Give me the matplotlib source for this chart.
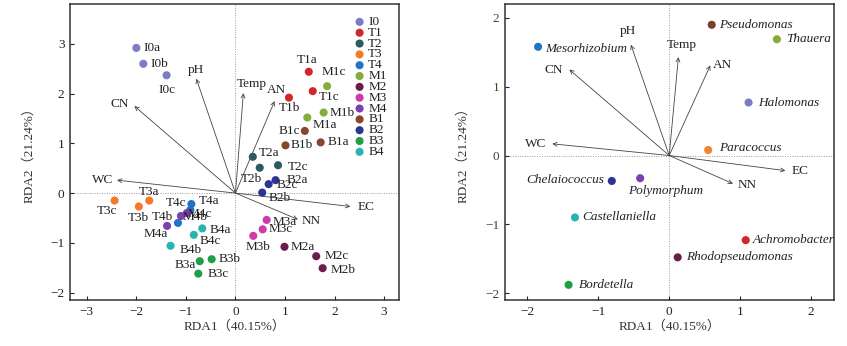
import matplotlib
matplotlib.use("Agg")
import matplotlib.pyplot as plt

plt.rcParams['font.family'] = ['Liberation Serif', 'Noto Sans CJK SC']
plt.rcParams['axes.unicode_minus'] = True

# ---- left panel: samples ----
groups = ["I0", "T1", "T2", "T3", "T4", "M1", "M2", "M3", "M4", "B1", "B2", "B3", "B4"]
group_colors = ["#7b7bc6", "#d2262b", "#2d5a60", "#f57a26", "#1f74c4", "#85ad3c", "#6a1d4c",
                "#cf3aab", "#7a3fb0", "#86472e", "#2b3592", "#1f9e44", "#27b3b0"]

sample_names = ["I0a", "I0b", "I0c",
                "T1a", "T1b", "T1c",
                "T2a", "T2b", "T2c",
                "T3a", "T3b", "T3c",
                "T4a", "T4b", "T4c",
                "M1a", "M1b", "M1c",
                "M2a", "M2b", "M2c",
                "M3a", "M3b", "M3c",
                "M4a", "M4b", "M4c",
                "B1a", "B1b", "B1c",
                "B2a", "B2b", "B2c",
                "B3a", "B3b", "B3c",
                "B4a", "B4b", "B4c"]
sample_x = [-2.00, -1.86, -1.39,
            1.48, 1.08, 1.56,
            0.35, 0.49, 0.86,
            -1.74, -1.95, -2.44,
            -0.89, -1.16, -0.91,
            1.45, 1.78, 1.85,
            0.99, 1.76, 1.63,
            0.63, 0.36, 0.55,
            -1.38, -1.10, -0.98,
            1.72, 1.01, 1.40,
            0.81, 0.54, 0.67,
            -0.72, -0.48, -0.75,
            -0.67, -1.31, -0.84]
sample_y = [2.92, 2.60, 2.37,
            2.44, 1.92, 2.05,
            0.73, 0.51, 0.56,
            -0.15, -0.27, -0.15,
            -0.22, -0.60, -0.34,
            1.52, 1.62, 2.15,
            -1.08, -1.51, -1.27,
            -0.54, -0.86, -0.73,
            -0.66, -0.46, -0.40,
            1.02, 0.96, 1.25,
            0.26, 0.01, 0.18,
            -1.37, -1.33, -1.62,
            -0.71, -1.06, -0.84]

env_vars = ["WC", "EC", "NN", "CN", "pH", "Temp", "AN"]
env_left_x = [-2.39, 2.32, 1.26, -2.04, -0.79, 0.16, 0.79]
env_left_y = [0.26, -0.27, -0.53, 1.75, 2.30, 2.01, 1.85]

# ---- right panel: genera ----
genera = ["Mesorhizobium", "Pseudomonas", "Thauera", "Halomonas", "Paracoccus", "Chelaiococcus",
          "Polymorphum", "Castellaniella", "Achromobacter", "Rhodopseudomonas", "Bordetella"]
genus_x = [-1.85, 0.60, 1.52, 1.12, 0.55, -0.81, -0.41, -1.33, 1.08, 0.12, -1.42]
genus_y = [1.58, 1.90, 1.69, 0.77, 0.08, -0.37, -0.33, -0.90, -1.23, -1.48, -1.88]
genus_colors = ["#1f74c4", "#7a3f2b", "#85ad3c", "#7b7bc6", "#f28530", "#2b3592",
                "#7a3fb0", "#27b3b0", "#d2262b", "#6a1d4c", "#1f9e44"]

env_right_x = [-1.65, 1.64, 0.90, -1.41, -0.54, 0.13, 0.58]
env_right_y = [0.17, -0.22, -0.41, 1.25, 1.61, 1.43, 1.31]

# label placement (pixel offsets, ha)
sample_lab = {
    "I0a": (7, 0, "left"), "I0b": (7, 0, "left"), "I0c": (0, -15, "center"),
    "T1a": (-2, 12, "center"), "T1b": (-10, -10, "left"), "T1c": (6, -6, "left"),
    "T2a": (6, 4, "left"), "T2b": (-8, -11, "center"), "T2c": (10, -2, "left"),
    "T3a": (0, 9, "center"), "T3b": (0, -11, "center"), "T3c": (-8, -10, "center"),
    "T4a": (7, 3, "left"), "T4b": (-5, 6, "right"), "T4c": (-4, 7, "right"),
    "M1a": (5, -7, "left"), "M1b": (6, 0, "left"), "M1c": (7, 14, "center"),
    "M2a": (6, 0, "left"), "M2b": (8, -2, "left"), "M2c": (8, 0, "left"),
    "M3a": (6, -2, "left"), "M3b": (5, -11, "center"), "M3c": (6, 0, "left"),
    "M4a": (-11, -8, "center"), "M4b": (2, -1, "left"), "M4c": (1, -1, "left"),
    "B1a": (7, 0, "left"), "B1b": (5, 0, "left"), "B1c": (-5, 0, "right"),
    "B2a": (11, 0, "left"), "B2b": (6, -5, "left"), "B2c": (8, -1, "left"),
    "B3a": (-4, -4, "right"), "B3b": (7, 0, "left"), "B3c": (9, 0, "left"),
    "B4a": (7, -2, "left"), "B4b": (9, -4, "left"), "B4c": (6, -6, "left"),
}
env_lab_left = {"WC": (-4, 0, "right"), "EC": (7, 0, "left"), "NN": (4, -2, "left"),
                "CN": (-5, 2, "right"), "pH": (0, 9, "center"), "Temp": (8, 9, "center"),
                "AN": (2, 11, "center")}
env_lab_right = {"WC": (-6, 0, "right"), "EC": (6, 0, "left"), "NN": (5, -1, "left"),
                 "CN": (-6, 0, "right"), "pH": (-3, 14, "center"), "Temp": (3, 12, "center"),
                 "AN": (3, 0, "left")}
genus_lab = {"Mesorhizobium": (7, -2, "left"), "Pseudomonas": (7, 0, "left"),
             "Thauera": (9, 0, "left"), "Halomonas": (10, 0, "left"),
             "Paracoccus": (11, 2, "left"), "Chelaiococcus": (-8, 1, "right"),
             "Polymorphum": (-12, -13, "left"), "Castellaniella": (7, 0, "left"),
             "Achromobacter": (7, 0, "left"), "Rhodopseudomonas": (8, 0, "left"),
             "Bordetella": (10, 0, "left")}

FS = 9.5
fig = plt.figure(figsize=(8.47, 3.46), dpi=100)
ax1 = fig.add_axes([0.0826, 0.133, 0.389, 0.855])
ax2 = fig.add_axes([0.596, 0.133, 0.389, 0.855])


def style_axes(ax, xlim, ylim, xticks, yticks):
    ax.set_xlim(*xlim)
    ax.set_ylim(*ylim)
    ax.set_xticks(xticks)
    ax.set_yticks(yticks)
    ax.tick_params(direction="in", length=3, width=0.8, labelsize=FS, pad=4, colors="#222222")
    for sp in ax.spines.values():
        sp.set_linewidth(1.1)
        sp.set_color("#333333")
    ax.axhline(0, color="#999999", lw=0.7, ls=(0, (1, 1.5)), zorder=0)
    ax.axvline(0, color="#999999", lw=0.7, ls=(0, (1, 1.5)), zorder=0)
    ax.set_xlabel("RDA1（40.15%）", fontsize=FS, labelpad=2, color="#333333")
    ax.set_ylabel("RDA2（21.24%）", fontsize=FS, labelpad=11, color="#333333")


def draw_arrows(ax, xs, ys, labels):
    for name, x, y in zip(env_vars, xs, ys):
        ax.annotate("", xy=(x, y), xytext=(0, 0),
                    arrowprops=dict(arrowstyle="->", lw=0.6, color="#444444",
                                    shrinkA=0, shrinkB=0, mutation_scale=7))
        dx, dy, ha = labels[name]
        ax.annotate(name, (x, y), xytext=(dx, dy), textcoords="offset pixels",
                    ha=ha, va="center", fontsize=FS, color="#222222")


# left panel
style_axes(ax1, (-3.34, 3.31), (-2.15, 3.8), range(-3, 4), range(-2, 4))
draw_arrows(ax1, env_left_x, env_left_y, env_lab_left)
for name, x, y in zip(sample_names, sample_x, sample_y):
    c = group_colors[groups.index(name[:2])]
    ax1.scatter(x, y, s=34, color=c, edgecolors="none", zorder=3)
    dx, dy, ha = sample_lab[name]
    ax1.annotate(name, (x, y), xytext=(dx, dy), textcoords="offset pixels",
                 ha=ha, va="center", fontsize=FS, color="#222222", zorder=4)

# legend drawn by hand, tightly packed
for i, (g, c) in enumerate(zip(groups, group_colors)):
    yy = 0.940 - i * 0.0366
    ax1.scatter(0.879, yy, s=34, color=c, edgecolors="none", transform=ax1.transAxes,
                clip_on=False, zorder=3)
    ax1.text(0.905, yy, g, transform=ax1.transAxes, ha="left", va="center",
             fontsize=FS, color="#222222")

# right panel
style_axes(ax2, (-2.32, 2.33), (-2.1, 2.2), range(-2, 3), range(-2, 3))
ax2.tick_params(axis="y", labelcolor="#5a3a20")
draw_arrows(ax2, env_right_x, env_right_y, env_lab_right)
for name, x, y, c in zip(genera, genus_x, genus_y, genus_colors):
    ax2.scatter(x, y, s=34, color=c, edgecolors="none", zorder=3)
    dx, dy, ha = genus_lab[name]
    ax2.annotate(name, (x, y), xytext=(dx, dy), textcoords="offset pixels",
                 ha=ha, va="center", fontsize=FS, style="italic", color="#222222")

fig.savefig("out.png", dpi=100)
